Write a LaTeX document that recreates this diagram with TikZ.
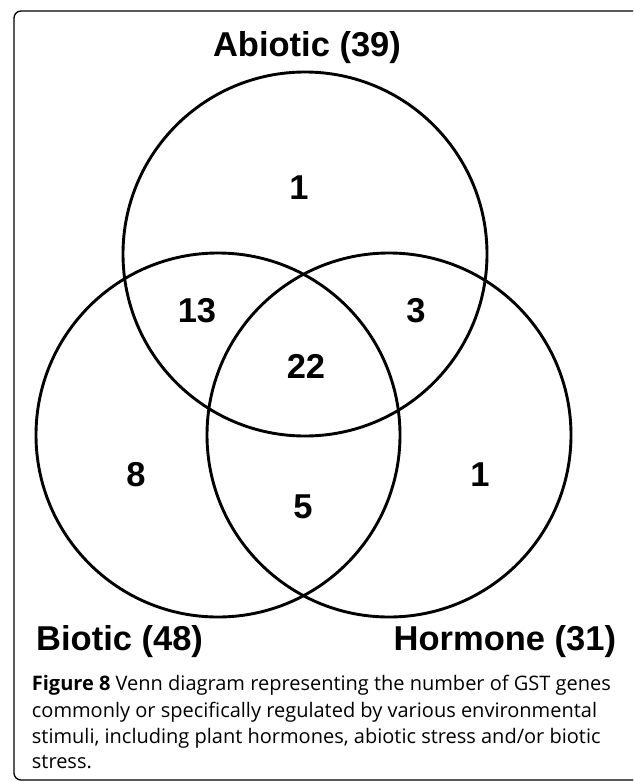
\documentclass[tikz,border=0pt]{standalone}
\usepackage{fontspec}
\setmainfont{Liberation Sans}
\newfontfamily\captionfont{Open Sans}

\begin{document}
\begin{tikzpicture}[x=1pt, y=-1pt,
  vennline/.style={line width=2.9pt},
  setlabel/.style={font=\fontsize{34.5}{40}\selectfont\bfseries, inner sep=0pt},
  count/.style={font=\fontsize{34.5}{40}\selectfont\bfseries, inner sep=0pt},
  capline/.style={font=\captionfont\fontsize{20}{26}\selectfont, anchor=base west, inner sep=0pt}]

% Page
\useasboundingbox (0,0) rectangle (633,781);
\clip (0,0) rectangle (633,781);

% Frame
\draw[line width=1.3pt, rounded corners=7pt] (14,11) rectangle (660,780);

% Circles
\draw[vennline] (305,254) circle (182); % Abiotic
\draw[vennline] (218,435) circle (182); % Biotic
\draw[vennline] (389,435) circle (182); % Hormone

% Set names
\node[setlabel, anchor=base] (abiotic) at (307,56.7) {Abiotic (39)};
\node[setlabel, anchor=base west] (biotic) at (36,650) {Biotic (48)};
\node[setlabel, anchor=base east] (hormone) at (616.3,650) {Hormone (31)};

% Region counts
\foreach \name/\x/\y/\val in {a/299/188/1, ab/197/311/13, ah/416/311/3,
  abh/306/366/22, b/136/475/8, h/480/475/1, bh/303/507/5} {
  \node[count] (n\name) at (\x,\y) {\val};
}

% Caption
\foreach \n/\y/\txt in {
  1/690/{\textbf{Figure 8} Venn diagram representing the number of GST genes},
  2/717.3/{commonly or specifically regulated by various environmental},
  3/743.3/{stimuli, including plant hormones, abiotic stress and/or biotic},
  4/768.3/{stress.}} {
  \node[capline] (cap\n) at (31.7,\y) {\txt};
}

\end{tikzpicture}
\end{document}
